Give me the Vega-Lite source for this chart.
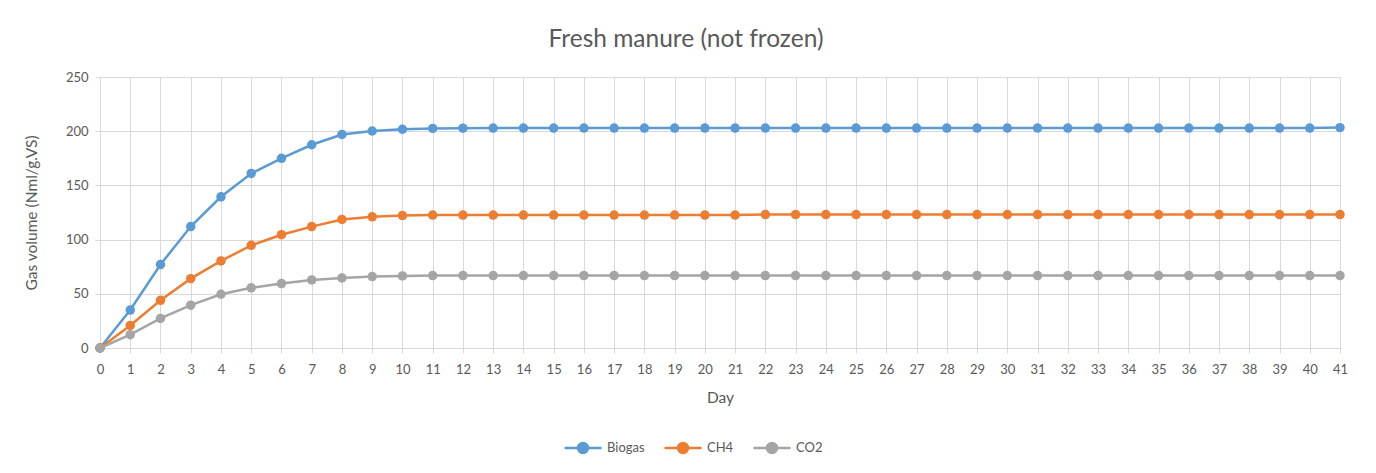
{
  "$schema": "https://vega.github.io/schema/vega-lite/v6.json",
  "autosize": {"type": "none"},
  "width": 1240,
  "height": 271,
  "padding": {"left": 100, "top": 77, "right": 36, "bottom": 125},
  "background": "white",
  "config": {
    "font": "Lato",
    "view": {"stroke": null},
    "axis": {
      "labelColor": "#595959",
      "titleColor": "#595959",
      "labelFontSize": 13,
      "titleFontSize": 15.5,
      "titleFontWeight": "normal",
      "gridColor": "#D9D9D9",
      "domainColor": "#D9D9D9",
      "tickColor": "#D9D9D9",
      "tickSize": 5
    },
    "legend": {
      "labelColor": "#595959",
      "labelFontSize": 13
    }
  },
  "title": {
    "text": "Fresh manure (not frozen)",
    "fontSize": 24.5,
    "fontWeight": "normal",
    "color": "#595959",
    "anchor": "middle",
    "frame": "bounds",
    "offset": 19
  },
  "data": {
    "values": [
      {"day": 0, "Biogas": 0, "CH4": 0, "CO2": 0},
      {"day": 1, "Biogas": 35, "CH4": 20.8, "CO2": 12.3},
      {"day": 2, "Biogas": 77, "CH4": 44, "CO2": 27.3},
      {"day": 3, "Biogas": 112, "CH4": 64, "CO2": 39.5},
      {"day": 4, "Biogas": 139.5, "CH4": 80.3, "CO2": 49.6},
      {"day": 5, "Biogas": 161, "CH4": 94.7, "CO2": 55.5},
      {"day": 6, "Biogas": 175, "CH4": 104.5, "CO2": 59.4},
      {"day": 7, "Biogas": 187.5, "CH4": 112, "CO2": 62.8},
      {"day": 8, "Biogas": 197, "CH4": 118.6, "CO2": 64.6},
      {"day": 9, "Biogas": 200.2, "CH4": 121, "CO2": 65.9},
      {"day": 10, "Biogas": 201.8, "CH4": 122.2, "CO2": 66.5},
      {"day": 11, "Biogas": 202.6, "CH4": 122.6, "CO2": 66.8},
      {"day": 12, "Biogas": 202.8, "CH4": 122.6, "CO2": 66.8},
      {"day": 13, "Biogas": 202.9, "CH4": 122.6, "CO2": 66.8},
      {"day": 14, "Biogas": 202.9, "CH4": 122.6, "CO2": 66.8},
      {"day": 15, "Biogas": 202.9, "CH4": 122.6, "CO2": 66.8},
      {"day": 16, "Biogas": 202.9, "CH4": 122.6, "CO2": 66.8},
      {"day": 17, "Biogas": 202.9, "CH4": 122.6, "CO2": 66.8},
      {"day": 18, "Biogas": 202.9, "CH4": 122.6, "CO2": 66.8},
      {"day": 19, "Biogas": 202.9, "CH4": 122.6, "CO2": 66.8},
      {"day": 20, "Biogas": 202.9, "CH4": 122.6, "CO2": 66.8},
      {"day": 21, "Biogas": 202.9, "CH4": 122.6, "CO2": 66.8},
      {"day": 22, "Biogas": 202.9, "CH4": 123.1, "CO2": 66.8},
      {"day": 23, "Biogas": 202.9, "CH4": 123.1, "CO2": 66.8},
      {"day": 24, "Biogas": 202.9, "CH4": 123.1, "CO2": 66.8},
      {"day": 25, "Biogas": 202.9, "CH4": 123.1, "CO2": 66.8},
      {"day": 26, "Biogas": 202.9, "CH4": 123.1, "CO2": 66.8},
      {"day": 27, "Biogas": 202.9, "CH4": 123.1, "CO2": 66.8},
      {"day": 28, "Biogas": 202.9, "CH4": 123.1, "CO2": 66.8},
      {"day": 29, "Biogas": 202.9, "CH4": 123.1, "CO2": 66.8},
      {"day": 30, "Biogas": 202.9, "CH4": 123.1, "CO2": 66.8},
      {"day": 31, "Biogas": 202.9, "CH4": 123.1, "CO2": 66.8},
      {"day": 32, "Biogas": 202.9, "CH4": 123.1, "CO2": 66.8},
      {"day": 33, "Biogas": 202.9, "CH4": 123.1, "CO2": 66.8},
      {"day": 34, "Biogas": 202.9, "CH4": 123.1, "CO2": 66.8},
      {"day": 35, "Biogas": 202.9, "CH4": 123.1, "CO2": 66.8},
      {"day": 36, "Biogas": 202.9, "CH4": 123.1, "CO2": 66.8},
      {"day": 37, "Biogas": 202.9, "CH4": 123.1, "CO2": 66.8},
      {"day": 38, "Biogas": 202.9, "CH4": 123.1, "CO2": 66.8},
      {"day": 39, "Biogas": 202.9, "CH4": 123.1, "CO2": 66.8},
      {"day": 40, "Biogas": 202.9, "CH4": 123.1, "CO2": 66.8},
      {"day": 41, "Biogas": 203.3, "CH4": 123.1, "CO2": 66.8}
    ]
  },
  "transform": [{"fold": ["Biogas", "CH4", "CO2"], "as": ["series", "value"]}],
  "encoding": {
    "x": {
      "field": "day",
      "type": "quantitative",
      "title": "Day",
      "scale": {"domain": [0, 41], "nice": false, "zero": false},
      "axis": {
        "values": [0,1,2,3,4,5,6,7,8,9,10,11,12,13,14,15,16,17,18,19,20,21,22,23,24,25,26,27,28,29,30,31,32,33,34,35,36,37,38,39,40,41],
        "labelPadding": 10,
        "titlePadding": 14,
        "labelFlush": false
      }
    },
    "y": {
      "field": "value",
      "type": "quantitative",
      "title": "Gas volume (Nml/g.VS)",
      "scale": {"domain": [0, 250], "nice": false},
      "axis": {"values": [0, 50, 100, 150, 200, 250], "labelPadding": 7, "titlePadding": 26, "domain": false}
    },
    "color": {
      "field": "series",
      "type": "nominal",
      "scale": {"domain": ["Biogas", "CH4", "CO2"], "range": ["#5B9BD5", "#ED7D31", "#A5A5A5"]},
      "legend": {
        "title": null,
        "orient": "none",
        "legendX": 463,
        "legendY": 351,
        "direction": "horizontal",
        "symbolType": "M-1,0L1,0M-0.27,0A0.27,0.27,0,1,1,0.27,0A0.27,0.27,0,1,1,-0.27,0Z",
        "symbolSize": 1369,
        "symbolStrokeWidth": 2.5,
        "symbolOpacity": 1,
        "labelOffset": 4,
        "columnPadding": 14
      }
    }
  },
  "layer": [
    {"mark": {"type": "line", "strokeWidth": 2.5}},
    {"mark": {"type": "point", "filled": true, "size": 90, "opacity": 1, "shape": "circle"}}
  ]
}
